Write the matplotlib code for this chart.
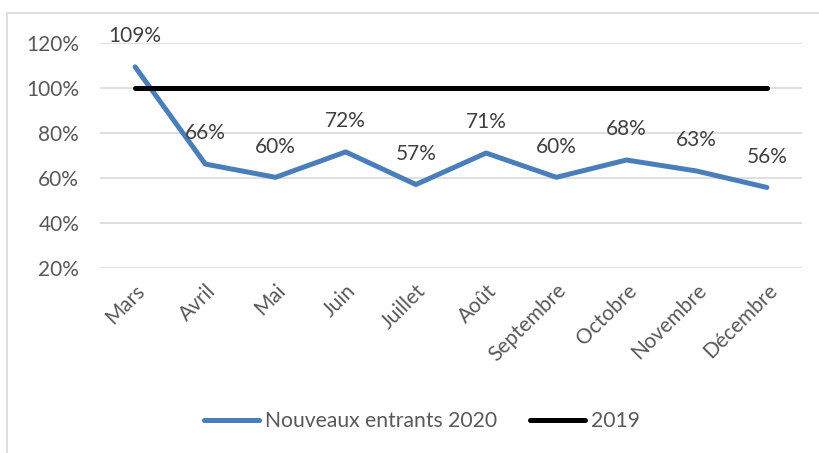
import matplotlib
matplotlib.use("Agg")
import matplotlib.pyplot as plt
from matplotlib.patches import Rectangle
from matplotlib.ticker import FuncFormatter

# data
mois = ["Mars", "Avril", "Mai", "Juin", "Juillet", "Août",
        "Septembre", "Octobre", "Novembre", "Décembre"]
entrants_2020 = [1.094, 0.662, 0.603, 0.716, 0.571, 0.711, 0.603, 0.680, 0.631, 0.558]
ref_2019 = [1.0] * len(mois)
yticks = [0.2, 0.4, 0.6, 0.8, 1.0, 1.2]

plt.rcParams['font.family'] = ['Lato', 'DejaVu Sans']
gris = "#595959"

fig = plt.figure(figsize=(8.19, 4.53), dpi=100)
W, H = 819, 453
ax = fig.add_axes([100 / W, 1 - 268 / H, 702 / W, 225 / H])

# outer chart frame (partly cropped in the reference)
fig.patches.append(Rectangle((7 / W, -0.05), 1.0, 1 - 13 / H + 0.05,
                             transform=fig.transFigure, fill=False,
                             edgecolor="#d9d9d9", linewidth=1.2))

x = list(range(len(mois)))
ax.plot(x, entrants_2020, color="#4a7ebb", linewidth=3.6,
        solid_capstyle="round", solid_joinstyle="round",
        label="Nouveaux entrants 2020", zorder=3)
ax.plot(x, ref_2019, color="black", linewidth=3.6,
        solid_capstyle="round", label="2019", zorder=3)

for xi, v in zip(x, entrants_2020):
    ax.annotate(f"{round(v * 100)}%", (xi, v), xytext=(0, 22),
                textcoords="offset points", ha="center", va="center",
                fontsize=15, color="#404040", clip_on=False)

ax.set_xlim(-0.5, len(mois) - 0.5)
ax.set_ylim(0.2, 1.2)
ax.set_yticks(yticks)
ax.yaxis.set_major_formatter(FuncFormatter(lambda v, p: f"{round(v * 100)}%"))
ax.set_xticks(x)
ax.set_xticklabels(mois, rotation=45, ha="right", rotation_mode="anchor")
ax.tick_params(axis="both", length=0, labelsize=15, labelcolor=gris)
ax.tick_params(axis="x", pad=9)
ax.tick_params(axis="y", pad=15)
ax.grid(axis="y", color="#d9d9d9", linewidth=1.2)
ax.set_axisbelow(True)
for s in ax.spines.values():
    s.set_visible(False)

fig.legend(loc="center", bbox_to_anchor=(422 / W, 1 - 421 / H), ncol=2,
           frameon=False, fontsize=15.2, labelcolor=gris, handlelength=2.6,
           handletextpad=0.25, columnspacing=1.6)

fig.savefig("out.png", dpi=100)
